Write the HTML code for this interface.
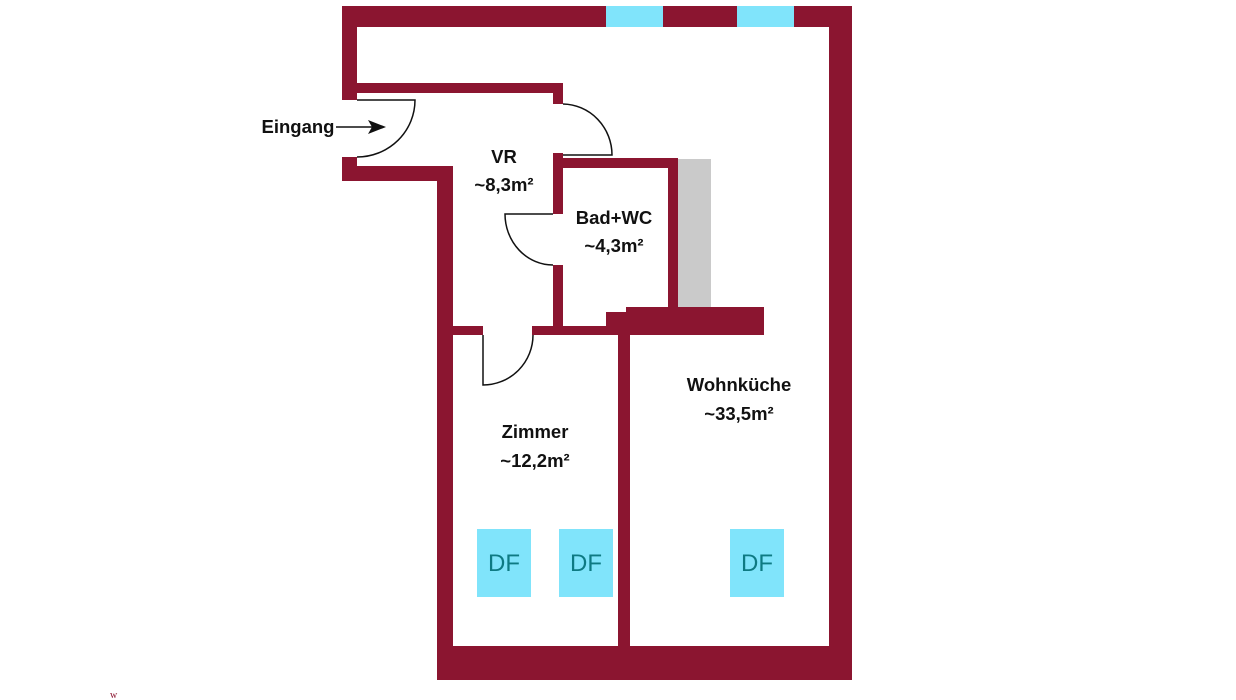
<!DOCTYPE html>
<html><head><meta charset="utf-8"><style>
html,body{margin:0;padding:0;background:#fff;}
svg{display:block;}
text{font-family:"Liberation Sans",sans-serif;font-weight:bold;fill:#111;}
</style></head><body>
<svg width="1236" height="700" viewBox="0 0 1236 700" xmlns="http://www.w3.org/2000/svg">
<g fill="#8b1530">
<rect x="342" y="6" width="510" height="21"/>
<rect x="829" y="6" width="23" height="674"/>
<rect x="437" y="646" width="415" height="34"/>
<rect x="342" y="6" width="15" height="94"/>
<rect x="342" y="83" width="221" height="10"/>
<rect x="553" y="83" width="10" height="21"/>
<rect x="342" y="157" width="15" height="24"/>
<rect x="342" y="166" width="111" height="15"/>
<rect x="437" y="166" width="16" height="514"/>
<rect x="553" y="153" width="10" height="61"/>
<rect x="553" y="265" width="10" height="70"/>
<rect x="553" y="158" width="125" height="10"/>
<rect x="668" y="158" width="10" height="152"/>
<rect x="626" y="307" width="138" height="28"/>
<rect x="606" y="312" width="30" height="23"/>
<rect x="437" y="326" width="46" height="9"/>
<rect x="532" y="326" width="80" height="9"/>
<rect x="618" y="326" width="12" height="330"/>
</g>
<rect x="606" y="6" width="57" height="21" fill="#80e4fb"/>
<rect x="737" y="6" width="57" height="21" fill="#80e4fb"/>
<rect x="678" y="159" width="33" height="148" fill="#cacaca"/>
<g fill="none" stroke="#111" stroke-width="1.5">
<path d="M357 100 H415 A58 57 0 0 1 357 157"/>
<path d="M563 104 A50 51 0 0 1 612 155 H563"/>
<path d="M553 214 H505 A48 51 0 0 0 553 265"/>
<path d="M483 335 V385 A50 50 0 0 0 533 335"/>
<line x1="336" y1="127" x2="372" y2="127"/>
</g>
<path d="M386 127 L368 120 L372 127 L368 134 Z" fill="#111"/>
<g fill="#80e4fb">
<rect x="477" y="529" width="54" height="68"/>
<rect x="559" y="529" width="54" height="68"/>
<rect x="730" y="529" width="54" height="68"/>
</g>
<g font-size="24" text-anchor="middle">
<text x="504" y="571" style="fill:#0e7a83;font-weight:normal">DF</text>
<text x="586" y="571" style="fill:#0e7a83;font-weight:normal">DF</text>
<text x="757" y="571" style="fill:#0e7a83;font-weight:normal">DF</text>
</g>
<g font-size="18.5" text-anchor="middle">
<text x="298" y="133">Eingang</text>
<text x="504" y="163">VR</text>
<text x="504" y="191">~8,3m²</text>
<text x="614" y="224">Bad+WC</text>
<text x="614" y="252">~4,3m²</text>
<text x="535" y="438">Zimmer</text>
<text x="535" y="467">~12,2m²</text>
<text x="739" y="391">Wohnküche</text>
<text x="739" y="420">~33,5m²</text>
</g>
<text x="110" y="698" font-size="10" style="fill:#8b1530;font-weight:normal;font-family:'Liberation Serif',serif">w</text>
</svg>
</body></html>
